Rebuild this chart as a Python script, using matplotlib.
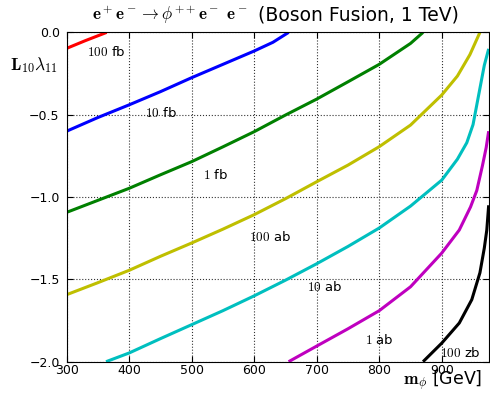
import matplotlib
matplotlib.use("Agg")
import matplotlib.pyplot as plt

plt.rcParams['mathtext.fontset'] = 'cm'
plt.rcParams['font.family'] = 'DejaVu Sans'

# Contours of cross section in (m_phi, L10 lambda11) plane
m_100fb = [300, 330, 364]
y_100fb = [-0.097, -0.05, 0.0]

m_10fb = [300, 350, 400, 450, 500, 550, 600, 630, 655]
y_10fb = [-0.60, -0.517, -0.44, -0.36, -0.275, -0.194, -0.113, -0.06, 0.0]

m_1fb = [300, 350, 400, 450, 500, 550, 600, 650, 700, 750, 800, 850, 870]
y_1fb = [-1.093, -1.02, -0.947, -0.865, -0.785, -0.695, -0.603, -0.502, -0.405, -0.30, -0.194, -0.067, 0.0]

m_100ab = [300, 350, 400, 450, 500, 550, 600, 650, 700, 750, 800, 850, 900, 925, 945, 961]
y_100ab = [-1.593, -1.52, -1.445, -1.36, -1.279, -1.195, -1.107, -1.01, -0.907, -0.806, -0.694, -0.563, -0.38, -0.265, -0.135, 0.0]

m_10ab = [363, 400, 450, 500, 550, 600, 650, 700, 750, 800, 850, 900, 925, 940, 950, 960, 968, 975]
y_10ab = [-2.0, -1.947, -1.86, -1.775, -1.69, -1.60, -1.505, -1.405, -1.30, -1.188, -1.055, -0.897, -0.77, -0.67, -0.56, -0.36, -0.20, -0.10]

m_1ab = [655, 700, 750, 800, 850, 900, 928, 946, 956, 965, 971, 975]
y_1ab = [-2.0, -1.905, -1.80, -1.69, -1.545, -1.34, -1.20, -1.06, -0.96, -0.81, -0.70, -0.60]

m_100zb = [870, 900, 928, 948, 961, 968, 972, 975]
y_100zb = [-2.0, -1.887, -1.765, -1.623, -1.46, -1.31, -1.20, -1.05]

series = [
    (m_100fb, y_100fb, 'r'),
    (m_10fb, y_10fb, 'b'),
    (m_1fb, y_1fb, 'g'),
    (m_100ab, y_100ab, 'y'),
    (m_10ab, y_10ab, 'c'),
    (m_1ab, y_1ab, 'm'),
    (m_100zb, y_100zb, 'k'),
]
colors = {'r': (1, 0, 0), 'b': (0, 0, 1), 'g': (0, 0.5, 0), 'y': (0.75, 0.75, 0),
          'c': (0, 0.75, 0.75), 'm': (0.75, 0, 0.75), 'k': (0, 0, 0)}

labels = [r'$100$ fb', r'$10$ fb', r'$1$ fb', r'$100$ ab', r'$10$ ab', r'$1$ ab', r'$100$ zb']
label_x = [363, 451, 538, 625, 712, 800, 930]
label_y = [-0.118, -0.492, -0.866, -1.241, -1.545, -1.868, -1.945]

xticks = [300, 400, 500, 600, 700, 800, 900]
yticks = [-2.0, -1.5, -1.0, -0.5, 0.0]

fig = plt.figure(figsize=(4.9, 3.95), dpi=100)
ax = fig.add_axes([0.136, 0.0843, 0.8613, 0.8337])

for mx, my, c in series:
    ax.plot(mx, my, color=colors[c], lw=2.2, solid_capstyle='butt')

for t, x, y in zip(labels, label_x, label_y):
    ax.text(x, y, t, fontsize=9.5, ha='center', va='center')

ax.set_xlim(300, 975)
ax.set_ylim(-2.0, 0.0)
ax.set_xticks(xticks)
ax.set_yticks(yticks)
ax.set_xticklabels([str(v) for v in xticks])
ax.set_yticklabels(['\u22122.0', '\u22121.5', '\u22121.0', '\u22120.5', '0.0'])
ax.tick_params(direction='in', length=4, width=0.8, labelsize=9, top=True, right=True, pad=2)
ax.tick_params(axis='y', pad=5)
ax.grid(True, color='0.2', linestyle=':', linewidth=0.8)

fig.text(247 / 490, 0.963, r'$\mathbf{e^+e^-} \rightarrow \phi^{++}\mathbf{e^-}\ \mathbf{e^-}$',
         fontsize=12.3, ha='right', va='center')
fig.text(258 / 490, 0.963, '(Boson Fusion, 1 TeV)', fontsize=13.5, ha='left', va='center')
fig.text(0.070, 0.835, r'$\mathbf{L}_{10}\lambda_{11}$', fontsize=12.5, ha='center', va='center')
fig.text(0.985, 0.004, r'$\mathbf{m}_{\phi}$ [GeV]', fontsize=12.5, ha='right', va='bottom')

fig.savefig('out.png', dpi=100)
